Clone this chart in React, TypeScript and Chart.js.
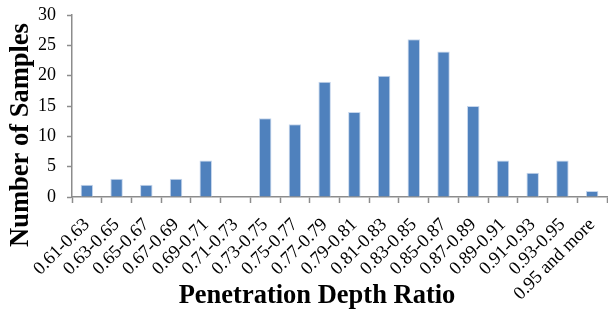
import React, { useEffect, useRef } from "react";
import { Chart, registerables } from "chart.js";

Chart.register(...registerables);

const categories = [
  "0.61-0.63", "0.63-0.65", "0.65-0.67", "0.67-0.69", "0.69-0.71", "0.71-0.73",
  "0.73-0.75", "0.75-0.77", "0.77-0.79", "0.79-0.81", "0.81-0.83", "0.83-0.85",
  "0.85-0.87", "0.87-0.89", "0.89-0.91", "0.91-0.93", "0.93-0.95", "0.95 and more",
];
const sampleCounts = [2, 3, 2, 3, 6, 0, 13, 12, 19, 14, 20, 26, 24, 15, 6, 4, 6, 1];
const yTickValues = [0, 5, 10, 15, 20, 25, 30];
const xTitle = "Penetration Depth Ratio";
const yTitle = "Number of Samples";

const SERIF = "'Liberation Serif', 'Times New Roman', serif";

const axisTitlePlugin = {
  id: "axisTitles",
  afterDraw(chart: any) {
    const ctx = chart.ctx;
    ctx.save();
    ctx.fillStyle = "#000";
    ctx.font = `bold 26.5px ${SERIF}`;
    ctx.textAlign = "center";
    ctx.textBaseline = "middle";
    ctx.fillText(xTitle, 317, 296);
    ctx.translate(21, 135);
    ctx.rotate(-Math.PI / 2);
    ctx.fillText(yTitle, 0, 0);
    ctx.restore();
  },
};

function zeroPadding(scale: any) {
  scale.paddingTop = 0;
  scale.paddingBottom = 0;
  scale.paddingLeft = 0;
  scale.paddingRight = 0;
}

export default function App() {
  const ref = useRef<HTMLCanvasElement>(null);
  useEffect(() => {
    document.body.style.margin = "0";
    const chart = new Chart(ref.current!, {
      type: "bar",
      data: {
        labels: categories,
        datasets: [
          {
            data: sampleCounts,
            backgroundColor: "#4F81BD",
            borderColor: "#C6D6EC",
            borderWidth: 1,
            barPercentage: 0.42,
            categoryPercentage: 1,
          },
        ],
      },
      options: {
        animation: false,
        responsive: false,
        devicePixelRatio: 1,
        layout: { padding: { left: 0, right: 1, top: 15, bottom: 0 } },
        plugins: { legend: { display: false }, tooltip: { enabled: false } },
        scales: {
          x: {
            afterFit(scale: any) {
              scale.height = 116;
              zeroPadding(scale);
            },
            grid: {
              drawOnChartArea: false,
              drawTicks: true,
              tickLength: 6,
              tickColor: "#8c8c8c",
              tickWidth: 1.5,
              offset: true,
            },
            border: { color: "#8c8c8c", width: 1.5 },
            ticks: {
              minRotation: 45,
              maxRotation: 45,
              autoSkip: false,
              color: "#000",
              padding: 11,
              font: { family: SERIF, size: 18.5 },
            },
          },
          y: {
            min: 0,
            max: 30,
            afterFit(scale: any) {
              scale.width = 72;
              zeroPadding(scale);
            },
            afterBuildTicks(scale: any) {
              scale.ticks = yTickValues.map((v) => ({ value: v }));
            },
            grid: {
              drawOnChartArea: false,
              drawTicks: true,
              tickLength: 5,
              tickColor: "#8c8c8c",
              tickWidth: 1.5,
            },
            border: { color: "#8c8c8c", width: 1.5 },
            ticks: {
              color: "#000",
              padding: 11,
              font: { family: SERIF, size: 18 },
            },
          },
        },
      },
      plugins: [axisTitlePlugin],
    });
    return () => chart.destroy();
  }, []);
  return (
    <div style={{ width: 608, height: 313 }}>
      <canvas ref={ref} width={608} height={313} />
    </div>
  );
}
